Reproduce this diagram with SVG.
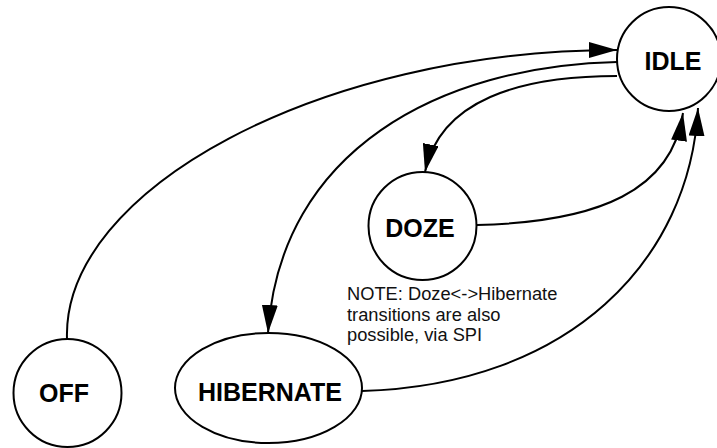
<svg xmlns="http://www.w3.org/2000/svg" width="717" height="448" viewBox="0 0 717 448">
<style>
.node{fill:#fff;stroke:#000;stroke-width:2}
.lbl{font-family:"Liberation Sans",Arial,sans-serif;font-weight:bold;font-size:25px;fill:#000;text-anchor:middle}
.edge{fill:none;stroke:#000;stroke-width:2;marker-end:url(#arr)}
.note{font-family:"Liberation Sans",Arial,sans-serif;font-size:18.3px;fill:#111}
</style>
<defs>
<marker id="arr" markerUnits="userSpaceOnUse" markerWidth="28" markerHeight="16" refX="28" refY="8" orient="auto" viewBox="0 0 28 16">
<path d="M0,0 L28,8 L0,16 z" fill="#000"/>
</marker>
</defs>
<rect width="717" height="448" fill="#fff"/>
<g id="connectors">
<path class="edge" d="M67,339 C62,190 320,50 617,50"/>
<path class="edge" d="M617,62 C440,66 280,150 268,333"/>
<path class="edge" d="M617,76 C520,76 440,100 425,172"/>
<path class="edge" d="M477,225 C600,222 672,190 683,113"/>
<path class="edge" d="M362,391 C570,385 690,260 698,108"/>
</g>
<g id="idle"><circle class="node" cx="669" cy="59" r="52"/><text class="lbl" x="673" y="70">IDLE</text></g>
<g id="doze"><circle class="node" cx="422.5" cy="226" r="54"/><text class="lbl" x="420" y="237">DOZE</text></g>
<g id="off"><circle class="node" cx="67.5" cy="393" r="54"/><text class="lbl" x="64" y="402">OFF</text></g>
<g id="hibernate"><ellipse class="node" cx="268.5" cy="388" rx="93.5" ry="55"/><text class="lbl" x="270" y="401">HIBERNATE</text></g>
<g id="note"><text class="note" x="347" y="300">NOTE: Doze&lt;-&gt;Hibernate</text><text class="note" x="347" y="320.5">transitions are also</text><text class="note" x="347" y="341">possible, via SPI</text></g>
</svg>
